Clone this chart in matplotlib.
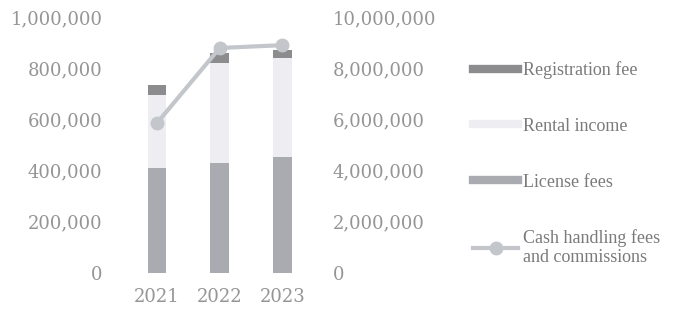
import matplotlib.pyplot as plt
import numpy as np
from matplotlib.lines import Line2D

# values
years = ['2021', '2022', '2023']
license_fees = [410000, 430000, 453000]
rental_income = [285000, 390000, 387000]
registration_fee = [39000, 39000, 31000]
cash_handling = [5860000, 8790000, 8900000]

c_reg = '#8c8c8e'
c_rent = '#eeeef2'
c_lic = '#a9abb0'
c_line = '#c3c6cb'
c_text = '#959595'

fig = plt.figure(figsize=(6.76, 3.13), dpi=100)
ax = fig.add_axes([115 / 676, 1 - 273 / 313, 205 / 676, 256 / 313])
ax2 = ax.twinx()

x = np.arange(len(years))
w = 0.3
ax.bar(x, license_fees, w, color=c_lic)
ax.bar(x, rental_income, w, bottom=license_fees, color=c_rent)
ax.bar(x, registration_fee, w, bottom=np.add(license_fees, rental_income), color=c_reg)
ax2.plot(x, cash_handling, color=c_line, lw=3, marker='o', ms=9)

ax.set_xlim(-0.67, 2.6)
ax.set_ylim(0, 1000000)
ax2.set_ylim(0, 10000000)
ax.set_yticks(np.arange(0, 1000001, 200000))
ax2.set_yticks(np.arange(0, 10000001, 2000000))
ax.set_xticks(x)

tick_font = dict(family='DejaVu Serif', size=13, color=c_text)
for a in (ax, ax2):
    for s in a.spines.values():
        s.set_visible(False)
    a.tick_params(length=0)
ax.set_yticklabels([f'{v:,}' for v in ax.get_yticks().astype(int)], **tick_font)
ax2.set_yticklabels([f'{v:,}' for v in ax2.get_yticks().astype(int)], **tick_font)
ax.set_xticklabels(years, **tick_font)
ax.tick_params(axis='y', pad=9)
ax2.tick_params(axis='y', pad=9)
ax.tick_params(axis='x', pad=11)

handles = [
    Line2D([], [], color=c_reg, lw=6),
    Line2D([], [], color=c_rent, lw=6),
    Line2D([], [], color=c_lic, lw=6),
    Line2D([], [], color=c_line, lw=3, marker='o', ms=9),
]
labels = ['Registration fee', 'Rental income', 'License fees',
          'Cash handling fees\nand commissions']
leg = fig.legend(handles, labels, loc='upper left', bbox_to_anchor=(464 / 676, 1 - 52 / 313),
                 frameon=False, prop=dict(family='Liberation Serif', size=13),
                 handlelength=2.5, handletextpad=0.25, labelspacing=2.15, borderpad=0)
for t in leg.get_texts():
    t.set_color('#7a7a7a')
    t.set_linespacing(1.1)

fig.savefig('out.png', dpi=100)
